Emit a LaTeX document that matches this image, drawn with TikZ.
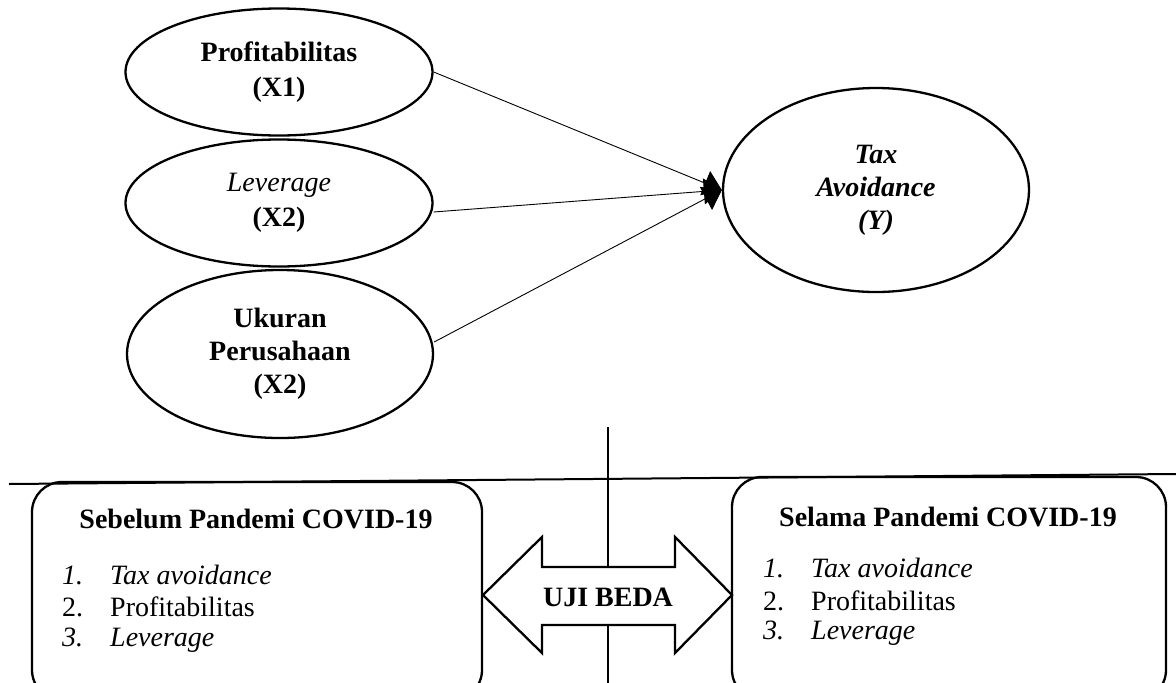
\documentclass[tikz,border=0pt]{standalone}
\usepackage{fontspec}
\setmainfont{Liberation Serif}
\usetikzlibrary{shapes.geometric,arrows.meta}
\tikzset{
  var/.style={draw, line width=2.3pt, ellipse, inner sep=0pt, align=center,
              font=\fontsize{28}{35}\selectfont},
  link/.style={line width=0.9pt, -{Triangle[length=18pt,width=26pt]}},
  panel/.style={draw, line width=2.3pt, rounded corners=30pt},
  heading/.style={font=\fontsize{28}{30}\selectfont\bfseries, inner sep=0pt},
  item/.style={font=\fontsize{28}{30}\selectfont, inner sep=0pt, anchor=west},
  rule/.style={line width=2pt}
}
\newcommand{\numitem}[2]{\makebox[48pt][l]{#1}#2}
\begin{document}
\begin{tikzpicture}[x=1pt,y=-1pt]
\useasboundingbox (0,0) rectangle (1176,683);
% ellipses
\node[var, minimum width=307pt, minimum height=127pt] (p) at (279,72)
  {\bfseries Profitabilitas\\\bfseries (X1)};
\node[var, minimum width=307pt, minimum height=127pt] (l) at (279,203)
  {\itshape Leverage\\\bfseries (X2)};
\node[var, minimum width=306pt, minimum height=168pt, font=\fontsize{28}{33}\selectfont] (u) at (280,354)
  {\bfseries Ukuran\\\bfseries Perusahaan\\\bfseries (X2)};
\node[var, minimum width=306pt, minimum height=204pt, font=\fontsize{28}{33}\selectfont] (y) at (876,190)
  {\bfseries\itshape Tax\\\bfseries\itshape Avoidance\\\bfseries\itshape (Y)};
% connectors
\draw[link] (p.east) -- (y.west);
\draw[link] ([yshift=-9pt]l.east) -- (y.west);
\draw[link] ([yshift=12pt]u.east) -- (y.west);
% separator lines
\coordinate (hl) at (9,484);
\coordinate (hr) at (1176,474);
\coordinate (vt) at (608,427);
\coordinate (vb) at (608,690);
\draw[rule] (hl) -- (hr);
\draw[rule] (vt) -- (vb);
% panels
\draw[panel] (32,482) rectangle (482,700);
\draw[panel] (732,477) rectangle (1166,700);
\node[heading] (h1) at (256,519) {Sebelum Pandemi COVID-19};
\node[heading] (h2) at (948,517) {Selama Pandemi COVID-19};
\node[item] (a1) at (62,575) {\itshape\numitem{1.}{Tax avoidance}};
\node[item] (a2) at (62,607) {\numitem{2.}{Profitabilitas}};
\node[item] (a3) at (62,640) {\itshape\numitem{3.}{Leverage}};
\node[item] (b1) at (763,568) {\itshape\numitem{1.}{Tax avoidance}};
\node[item] (b2) at (763,601) {\numitem{2.}{Profitabilitas}};
\node[item] (b3) at (763,633) {\itshape\numitem{3.}{Leverage}};
% double arrow
\draw[line width=2.3pt, fill=white, line join=miter]
  (483,595) -- (542,537) -- (542,567) -- (675,567) -- (675,537) -- (732,595)
  -- (675,653) -- (675,625) -- (542,625) -- (542,653) -- cycle;
\node[heading] (uji) at (608,597) {UJI BEDA};
\end{tikzpicture}
\end{document}
